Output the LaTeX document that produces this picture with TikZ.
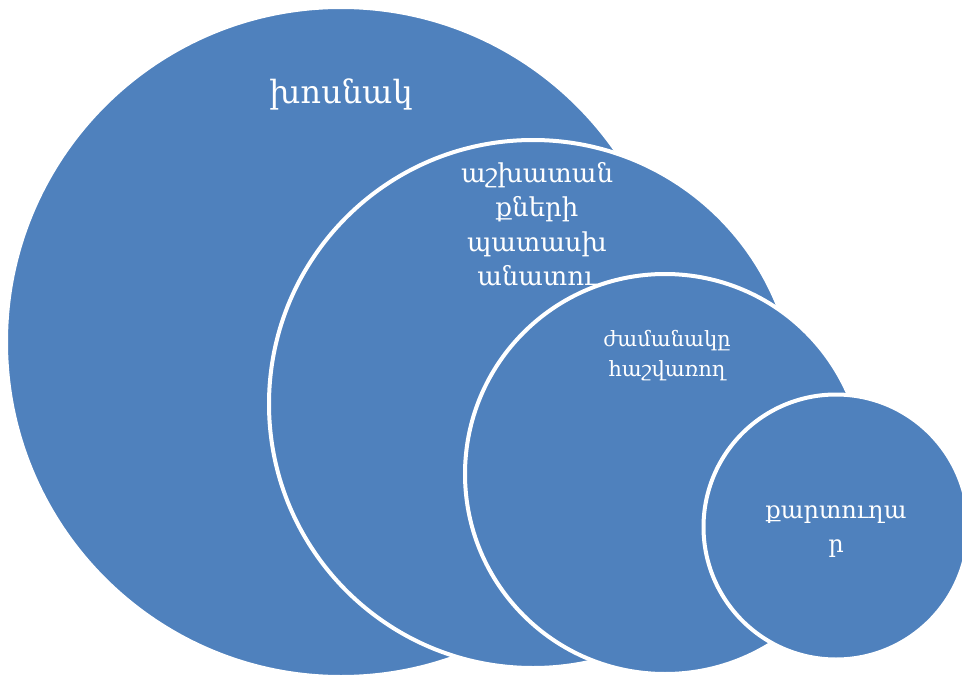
\documentclass[tikz,border=0pt]{standalone}
\usepackage{fontspec}
\setmainfont{DejaVu Serif}
\definecolor{circblue}{RGB}{79,129,189}
\tikzset{
  bubble/.style={circle, fill=circblue, draw=white, line width=4pt, inner sep=0pt},
  lbl/.style={text=white, align=center, inner sep=0pt}
}
\begin{document}
\begin{tikzpicture}[x=1pt,y=-1pt]
\useasboundingbox (0,0) rectangle (962,677);
\clip (0,0) rectangle (962,677);
\node[bubble, minimum size=670pt] (c1) at (341,342) {};
\node[bubble, minimum size=528pt] (c2) at (533,404) {};
\node[bubble, minimum size=400pt] (c3) at (665,474) {};
\node[bubble, minimum size=265pt] (c4) at (836,527) {};
\node[lbl, anchor=base, font=\fontsize{32}{40}\selectfont] (t1) at (341,103) {խոսնակ};
\node[lbl, font=\fontsize{26}{34.5}\selectfont] (t2) at (537,224) {աշխատան\\քների\\պատասխ\\անատու};
\node[lbl, font=\fontsize{21}{30}\selectfont] (t3) at (667,356) {ժամանակը\\հաշվառող};
\node[lbl, font=\fontsize{24}{34}\selectfont] (t4) at (836,532) {քարտուղա\\ր};
\end{tikzpicture}
\end{document}
